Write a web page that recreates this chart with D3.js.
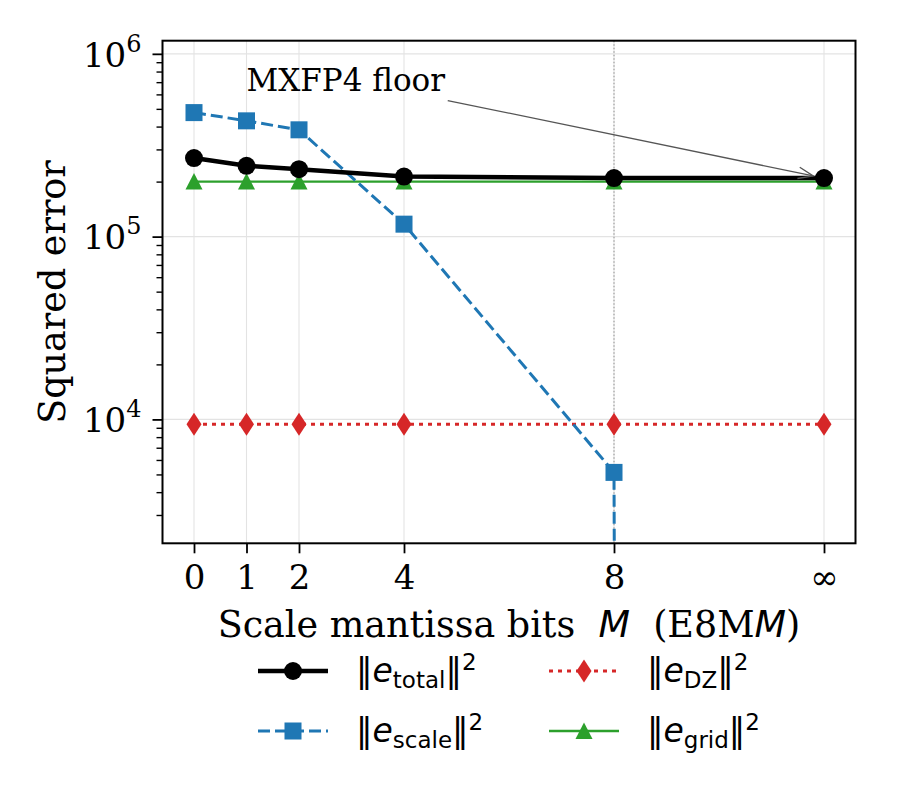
<!DOCTYPE html>
<html>
<head>
<meta charset="utf-8">
<script src="https://cdn.jsdelivr.net/npm/d3@7"></script>
<style>
    body { margin: 0; background: #ffffff; }
    svg { display: block; }
</style>
</head>
<body>
<svg id="drawing_region"></svg>
<script>
// x positions of the E8MM variants; "∞" (no mantissa rounding) is drawn at 12
const bits = [0, 1, 2, 4, 8, 12];
const bitLabels = ['0', '1', '2', '4', '8', '∞'];

// squared errors
const eTotal = [2.69e5, 2.44e5, 2.34e5, 2.13e5, 2.09e5, 2.09e5];
const eScale = [4.77e5, 4.30e5, 3.84e5, 1.17e5, 5.13e3, 0];
const eDZ = [9.4e3, 9.4e3, 9.4e3, 9.4e3, 9.4e3, 9.4e3];
const eGrid = [2.0e5, 2.0e5, 2.0e5, 2.0e5, 2.0e5, 2.0e5];

const yMajor = [1e4, 1e5, 1e6];
const yLimits = [2.1e3, 1.18e6];
const xLimits = [-0.6, 12.6];

const config = {
    parent: '#drawing_region',
    width: 900,
    height: 800,
    margin: { top: 40.7, right: 44.5, bottom: 256.7, left: 162.5 }
};

const series = [
    { name: 'total', values: eTotal, color: '#000000', width: 4.5, dash: null, marker: 'circle' },
    { name: 'scale', values: eScale, color: '#1f77b4', width: 3, dash: '12,5', marker: 'square' },
    { name: 'DZ', values: eDZ, color: '#d62728', width: 3, dash: '4,5', marker: 'diamond' },
    { name: 'grid', values: eGrid, color: '#2ca02c', width: 2.4, dash: null, marker: 'triangle' }
];

const serif = "'DejaVu Serif', serif";
const sans = "'DejaVu Sans', sans-serif";

function drawMarker(g, type, x, y, color) {
    if (type === 'circle') {
        g.append('circle').attr('cx', x).attr('cy', y).attr('r', 9).attr('fill', color);
    } else if (type === 'square') {
        g.append('rect').attr('x', x - 8.5).attr('y', y - 8.5)
            .attr('width', 17).attr('height', 17).attr('fill', color);
    } else if (type === 'diamond') {
        g.append('path').attr('d', `M${x},${y - 11.5}L${x + 7.5},${y}L${x},${y + 11.5}L${x - 7.5},${y}Z`)
            .attr('fill', color);
    } else if (type === 'triangle') {
        g.append('path').attr('d', `M${x},${y - 8.5}L${x + 8.5},${y + 8}L${x - 8.5},${y + 8}Z`)
            .attr('fill', color);
    }
}

const svg = d3.select(config.parent)
    .attr('width', config.width)
    .attr('height', config.height);

const inner_width = config.width - config.margin.left - config.margin.right;
const inner_height = config.height - config.margin.top - config.margin.bottom;

const chart = svg.append('g')
    .attr('transform', `translate(${config.margin.left}, ${config.margin.top})`);

const xscale = d3.scaleLinear().domain(xLimits).range([0, inner_width]);
const yscale = d3.scaleLog().domain(yLimits).range([inner_height, 0]);

svg.append('defs').append('clipPath').attr('id', 'plot_clip')
    .append('rect').attr('width', inner_width).attr('height', inner_height);

// grid
chart.append('g').selectAll('line.gx')
    .data(bits).join('line')
    .attr('x1', d => xscale(d)).attr('x2', d => xscale(d))
    .attr('y1', 0).attr('y2', inner_height)
    .attr('stroke', '#e3e3e3').attr('stroke-width', 1.1);
chart.append('g').selectAll('line.gy')
    .data(yMajor).join('line')
    .attr('x1', 0).attr('x2', inner_width)
    .attr('y1', d => yscale(d)).attr('y2', d => yscale(d))
    .attr('stroke', '#e3e3e3').attr('stroke-width', 1.1);

// dotted marker at M = 8
chart.append('line')
    .attr('x1', xscale(8)).attr('x2', xscale(8))
    .attr('y1', 0).attr('y2', inner_height)
    .attr('stroke', '#9a9a9a').attr('stroke-width', 1.1)
    .attr('stroke-dasharray', '1.5,2');

// series, drawn so that the total ends up on top
const plot = chart.append('g').attr('clip-path', 'url(#plot_clip)');
const line = d3.line()
    .x(d => xscale(d.x))
    .y(d => yscale(Math.max(d.v, 1e-300)));

[series[3], series[2], series[1], series[0]].forEach(s => {
    const pts = bits.map((x, i) => ({ x: x, v: s.values[i] }));
    plot.append('path')
        .datum(pts)
        .attr('d', line)
        .attr('fill', 'none')
        .attr('stroke', s.color)
        .attr('stroke-width', s.width)
        .attr('stroke-dasharray', s.dash);
    const mg = plot.append('g');
    pts.filter(p => p.v > 0).forEach(p => drawMarker(mg, s.marker, xscale(p.x), yscale(p.v), s.color));
});

// axes
const xaxis = d3.axisBottom(xscale)
    .tickValues(bits)
    .tickFormat((d, i) => bitLabels[i])
    .tickSize(10).tickPadding(12);
const xg = chart.append('g')
    .attr('transform', `translate(0, ${inner_height})`)
    .call(xaxis);
xg.select('.domain').remove();
xg.selectAll('.tick line').attr('stroke', '#000').attr('stroke-width', 1.8);
xg.selectAll('.tick text').attr('font-family', serif).attr('font-size', 34).attr('fill', '#000');

const yminor = [];
[1e3, 1e4, 1e5].forEach(b => { for (let k = 2; k <= 9; k++) yminor.push(b * k); });
const yminorAxis = d3.axisLeft(yscale)
    .tickValues(yminor.filter(v => v >= yLimits[0] && v <= yLimits[1]))
    .tickFormat('')
    .tickSize(6);
const ymg = chart.append('g').call(yminorAxis);
ymg.select('.domain').remove();
ymg.selectAll('.tick line').attr('stroke', '#000').attr('stroke-width', 1.4);

const yaxis = d3.axisLeft(yscale)
    .tickValues(yMajor)
    .tickSize(10).tickPadding(11);
const yg = chart.append('g').call(yaxis);
yg.select('.domain').remove();
yg.selectAll('.tick line').attr('stroke', '#000').attr('stroke-width', 1.8);
yg.selectAll('.tick text')
    .attr('font-family', serif).attr('font-size', 34).attr('fill', '#000')
    .attr('dy', '0.36em')
    .each(function (d) {
        const t = d3.select(this);
        t.text(null);
        t.append('tspan').text('10');
        t.append('tspan').attr('font-size', 24).attr('dy', -15).text(Math.round(Math.log10(d)));
    });

// frame
chart.append('rect')
    .attr('width', inner_width).attr('height', inner_height)
    .attr('fill', 'none').attr('stroke', '#000').attr('stroke-width', 2);

// axis labels
const xlabel = svg.append('text')
    .attr('x', config.margin.left + inner_width / 2)
    .attr('y', 637)
    .attr('text-anchor', 'middle')
    .attr('font-family', serif).attr('font-size', 36.5)
    .style('white-space', 'pre');
xlabel.append('tspan').text('Scale mantissa bits  ');
xlabel.append('tspan').attr('font-family', sans).attr('font-style', 'italic').text('M');
xlabel.append('tspan').text('  (E8M');
xlabel.append('tspan').attr('font-family', sans).attr('font-style', 'italic').text('M');
xlabel.append('tspan').text(')');

svg.append('text')
    .attr('transform', `translate(65, ${config.margin.top + inner_height / 2}) rotate(-90)`)
    .attr('text-anchor', 'middle')
    .attr('font-family', serif).attr('font-size', 36.5)
    .text('Squared error');

// annotation
const note = chart.append('text')
    .attr('x', xscale(1))
    .attr('y', yscale(6.3e5))
    .attr('font-family', serif).attr('font-size', 31)
    .text('MXFP4 floor');
const bb = note.node().getBBox();
const cx = bb.x + bb.width / 2, cy = bb.y + bb.height / 2;
const tx = xscale(12), ty = yscale(eTotal[5]);
const dx = tx - cx, dy = ty - cy;
const len = Math.hypot(dx, dy);
const ux = dx / len, uy = dy / len;
const tEdge = Math.min((bb.width / 2 + 3) / Math.abs(ux), (bb.height / 2 + 3) / Math.abs(uy));
const sx = cx + ux * tEdge, sy = cy + uy * tEdge;
const ex = tx - ux * 11, ey = ty - uy * 11;
const arrow = chart.append('g').attr('stroke', '#555555').attr('stroke-width', 1.3).attr('fill', 'none');
arrow.append('line').attr('x1', sx).attr('y1', sy).attr('x2', ex).attr('y2', ey);
const ang = Math.atan2(uy, ux), head = 16, spread = 21 * Math.PI / 180;
arrow.append('path')
    .attr('d', `M${ex - head * Math.cos(ang - spread)},${ey - head * Math.sin(ang - spread)}` +
        `L${ex},${ey}L${ex - head * Math.cos(ang + spread)},${ey - head * Math.sin(ang + spread)}`);

// legend (two columns, filled column-first)
const legendPos = [
    { x: 258, y: 671 },
    { x: 258, y: 731 },
    { x: 549, y: 671 },
    { x: 549, y: 731 }
];
const legend = svg.append('g');
series.forEach((s, i) => {
    const p = legendPos[i];
    const g = legend.append('g');
    g.append('line')
        .attr('x1', p.x).attr('x2', p.x + 70)
        .attr('y1', p.y).attr('y2', p.y)
        .attr('stroke', s.color).attr('stroke-width', s.width)
        .attr('stroke-dasharray', s.dash);
    drawMarker(g, s.marker, p.x + 35, p.y, s.color);
    const t = g.append('text')
        .attr('x', p.x + 98).attr('y', p.y + 11)
        .attr('font-family', sans).attr('font-size', 33);
    t.append('tspan').text('‖');
    t.append('tspan').attr('font-style', 'italic').text('e');
    t.append('tspan').attr('font-size', 23).attr('dy', 6).text(s.name);
    t.append('tspan').attr('dy', -6).text('‖');
    t.append('tspan').attr('font-size', 23).attr('dy', -12).text('2');
});
</script>
</body>
</html>
